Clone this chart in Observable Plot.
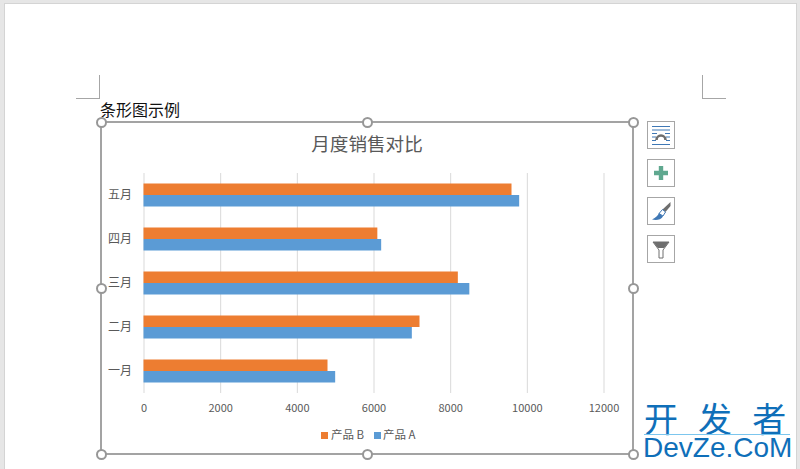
<!DOCTYPE html>
<html lang="zh">
<head>
<meta charset="utf-8">
<script src="https://cdn.jsdelivr.net/npm/d3@7"></script>
<script src="https://cdn.jsdelivr.net/npm/@observablehq/plot@0.6"></script>
<style>
html,body{margin:0;padding:0;width:800px;height:469px;overflow:hidden;background:#e6e6e6;font-family:"Noto Sans CJK SC",sans-serif}
.a{position:absolute}
#page{left:5px;top:4px;width:791px;height:465px;background:#fff;box-shadow:0 0 0 1px #d4d4d4}
#plot{left:0;top:0}
#plot svg{display:block;background:transparent}
.crop{background:#a6a6a6}
#frame{left:100px;top:121px;width:530px;height:330px;border:2px solid #a3a3a3}
.h{width:7px;height:7px;border:2px solid #979797;border-radius:50%;background:#fff}
.btn{left:647px;width:26px;height:26px;border:1px solid #a6a6a6;background:#fff}
.btn svg{display:block}
#doc{left:100px;top:98px;font-size:16px;line-height:22px;color:#111}
#title{left:101px;width:532px;top:129.5px;text-align:center;font-size:18.6px;line-height:26px;color:#595959}
.lg{top:426px;font-size:11.5px;line-height:16px;color:#595959;white-space:nowrap}
.sw{top:432px;width:7px;height:7px}
#wm1{left:644px;top:403px;font-size:34px;line-height:30px;word-spacing:12.5px;color:#0f6fb9;white-space:nowrap}
#wm2{left:643px;top:435px;font-family:"Liberation Sans",sans-serif;font-size:28px;line-height:26px;color:#0f6fb9;white-space:nowrap}
#wmline{left:644px;top:434px;width:146px;height:1px;background:#7cc6ee}
</style>
</head>
<body>
<div class="a" id="page"></div>
<div class="a crop" style="left:99px;top:75px;width:1px;height:24px"></div>
<div class="a crop" style="left:76px;top:98px;width:24px;height:1px"></div>
<div class="a crop" style="left:702px;top:75px;width:1px;height:24px"></div>
<div class="a crop" style="left:702px;top:98px;width:24px;height:1px"></div>
<div class="a" id="doc">条形图示例</div>
<div class="a" id="frame"></div>
<div class="a" id="title">月度销售对比</div>
<div class="a" id="plot"></div>
<div class="a sw" style="left:321px;background:#ed7d31"></div>
<div class="a lg" style="left:331px">产品 B</div>
<div class="a sw" style="left:374px;background:#5b9bd5"></div>
<div class="a lg" style="left:383px">产品 A</div>
<div id="handles"></div>

<div class="a btn" style="top:121px"><svg width="26" height="26">
<g stroke="#3f78b5" stroke-width="1"><path d="M4 4.500h18M4 8h18M4 11.500h5M17 11.500h5M4 15h4M18 15h4M4 18.500h4M18 18.500h4M4 22.500h18"/></g>
<path d="M8.500 18a4.500 4.500 0 0 1 9 0" fill="none" stroke="#6e6e6e" stroke-width="2.600"/></svg></div>
<div class="a btn" style="top:159px"><svg width="26" height="26"><path d="M6 13h14M13 6v14" stroke="#5fa88f" stroke-width="4.400"/></svg></div>
<div class="a btn" style="top:197px"><svg width="26" height="26">
<path d="M22.500 4l-8 7.500 3 2.500 5-6z" fill="#6e6e6e"/><path d="M14.500 11.500l3 2.500-2.500 4-4-2.500z" fill="#fff" stroke="#3f78b5"/><path d="M11 15c-1 3-4 5-7 6.500 4 1 9 .5 11-3z" fill="#3f78b5"/></svg></div>
<div class="a btn" style="top:235px"><svg width="26" height="26">
<path d="M5 6h16l-6 8v8h-4v-8z" fill="#fff" stroke="#6e6e6e"/><path d="M5 6h16l-5 6H10z" fill="#6e6e6e"/></svg></div>

<div class="a" id="wm1">开 发 者</div>
<div class="a" id="wmline"></div>
<div class="a" id="wm2">DevZe.CoM</div>

<script>
const months = ["五月","四月","三月","二月","一月"];
const productA = [9800,6200,8500,7000,5000];
const productB = [9600,6100,8200,7200,4800];
const products = ["产品 B","产品 A"];
const colors = ["#ed7d31","#5b9bd5"];
const xTicks = [0,2000,4000,6000,8000,10000,12000];

const rows = months.flatMap((m,i)=>[
  {month:m,product:products[0],value:productB[i]},
  {month:m,product:products[1],value:productA[i]}
]);

const chart = Plot.plot({
  width:800,height:469,
  marginLeft:143.5,marginRight:196.5,marginTop:172.7,marginBottom:76.3,
  style:{fontFamily:'"Noto Sans CJK SC",sans-serif',fontSize:"11px",color:"#595959",background:"transparent"},
  x:{domain:[0,12000],ticks:xTicks,label:null,tickFormat:d=>String(d)},
  fy:{domain:months,padding:0,label:null},
  y:{domain:products,paddingInner:0,paddingOuter:0.913,axis:null,round:false},
  color:{domain:products,range:colors},
  marks:[
    Plot.gridX(xTicks,{stroke:"#d9d9d9",strokeOpacity:1,strokeWidth:1}),
    Plot.barX(rows,{fy:"month",y:"product",x:"value",fill:"product"}),
    Plot.axisX({ticks:xTicks,tickSize:0,tickPadding:11,label:null,tickFormat:d=>String(d),fill:"#595959"}),
    Plot.axisFy({anchor:"left",tickSize:0,tickPadding:12,label:null,fontSize:12,fill:"#595959"})
  ]
});
document.getElementById("plot").appendChild(chart);

const handles=[[101,122],[367,122],[633,122],[101,288],[633,288],[101,454],[367,454],[633,454]];
const hg=document.getElementById("handles");
handles.forEach(([x,y])=>{
  const d=document.createElement("div");
  d.className="a h";
  d.style.left=(x-5.5)+"px";d.style.top=(y-5.5)+"px";
  hg.appendChild(d);
});
</script>
</body>
</html>
